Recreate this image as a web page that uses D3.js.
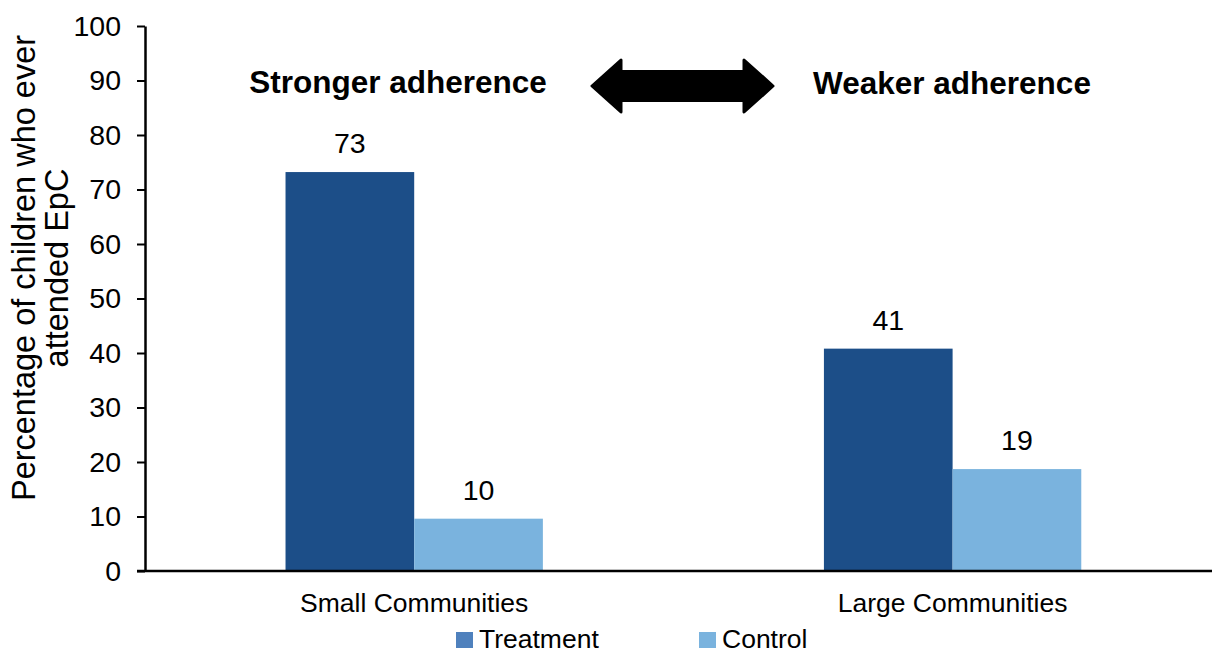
<!DOCTYPE html>
<html>
<head>
<meta charset="utf-8">
<script src="https://cdn.jsdelivr.net/npm/d3@7"></script>
<style>
  html, body { margin: 0; padding: 0; background: #fff; }
  svg { display: block; font-family: Arial, "Liberation Sans", sans-serif; }
</style>
</head>
<body>
<svg id="chart" width="1212" height="653"></svg>
<script>
// ---- data ----
const categories = ["Small Communities", "Large Communities"];
const seriesNames = ["Treatment", "Control"];
const treatmentValues = [73.2, 40.8];
const controlValues = [9.6, 18.7];
const yTicks = [0, 10, 20, 30, 40, 50, 60, 70, 80, 90, 100];
const yTitleLines = ["Percentage of children who ever", "attended EpC"];
const annotations = ["Stronger adherence", "Weaker adherence"];

const barColors = { Treatment: "#1c4e88", Control: "#7ab3de" };
const legendColors = { Treatment: "#4f81bd", Control: "#7ab3de" };

const rows = categories.map((c, i) => ({
  category: c,
  values: [
    { series: "Treatment", value: treatmentValues[i] },
    { series: "Control", value: controlValues[i] }
  ]
}));

const svg = d3.select("#chart");
const plotLeft = 145, plotBottom = 571, plotTop = 26;
const x0 = d3.scaleBand().domain(categories).range([plotLeft, plotLeft + 2 * 538.4])
  .paddingInner(0.522).paddingOuter(0.261);
const x1 = d3.scaleBand().domain(seriesNames).range([0, x0.bandwidth()]);
const y = d3.scaleLinear().domain([0, 100]).range([plotBottom, plotTop]);

// bars
const g = svg.selectAll("g.cat").data(rows).enter().append("g")
  .attr("transform", d => `translate(${x0(d.category)},0)`);
g.selectAll("rect").data(d => d.values).enter().append("rect")
  .attr("x", d => x1(d.series))
  .attr("width", x1.bandwidth())
  .attr("y", d => y(d.value))
  .attr("height", d => y(0) - y(d.value))
  .attr("fill", d => barColors[d.series]);
g.selectAll("text.val").data(d => d.values).enter().append("text")
  .attr("class", "val")
  .attr("x", d => x1(d.series) + x1.bandwidth() / 2)
  .attr("y", d => y(d.value) - 19)
  .attr("text-anchor", "middle")
  .attr("font-size", 28.5)
  .attr("fill", "#000")
  .text(d => Math.round(d.value));

// y axis
const yAxis = d3.axisLeft(y).tickValues(yTicks).tickSize(8).tickSizeOuter(0).tickPadding(16);
const ya = svg.append("g").attr("transform", `translate(${plotLeft},0)`).call(yAxis);
ya.select(".domain").attr("stroke", "#000").attr("stroke-width", 2.5);
ya.selectAll(".tick line").attr("stroke", "#000").attr("stroke-width", 2);
ya.selectAll(".tick text").attr("font-size", 28.5).attr("fill", "#000")
  .attr("font-family", "Arial, 'Liberation Sans', sans-serif");

// x baseline
svg.append("line").attr("x1", plotLeft - 8).attr("x2", 1212)
  .attr("y1", y(0)).attr("y2", y(0)).attr("stroke", "#000").attr("stroke-width", 2.5);

// category labels
svg.selectAll("text.cat").data(categories).enter().append("text")
  .attr("class", "cat")
  .attr("x", d => x0(d) + x0.bandwidth() / 2)
  .attr("y", 612)
  .attr("text-anchor", "middle")
  .attr("font-size", 26.5)
  .attr("fill", "#000")
  .text(d => d);

// y title
const yt = svg.append("text")
  .attr("transform", "translate(0,268) rotate(-90)")
  .attr("text-anchor", "middle")
  .attr("font-size", 32.5)
  .attr("fill", "#000");
yTitleLines.forEach((t, i) => {
  yt.append("tspan").attr("x", 0).attr("y", 35 + i * 33).text(t);
});

// annotations
svg.append("text").attr("x", 398).attr("y", 93).attr("text-anchor", "middle")
  .attr("font-size", 31.5).attr("font-weight", "bold").attr("fill", "#000").text(annotations[0]);
svg.append("text").attr("x", 952).attr("y", 94).attr("text-anchor", "middle")
  .attr("font-size", 31.5).attr("font-weight", "bold").attr("fill", "#000").text(annotations[1]);

// double arrow
const ax0 = 592, ax1 = 773, ay = 86, hh = 26, sh = 14.5, hl = 29;
const arrowPts = [
  [ax0, ay], [ax0 + hl, ay - hh], [ax0 + hl, ay - sh], [ax1 - hl, ay - sh], [ax1 - hl, ay - hh],
  [ax1, ay], [ax1 - hl, ay + hh], [ax1 - hl, ay + sh], [ax0 + hl, ay + sh], [ax0 + hl, ay + hh]
];
svg.append("path").attr("d", d3.line()(arrowPts) + "Z")
  .attr("fill", "#000").attr("stroke", "#000").attr("stroke-width", 3).attr("stroke-linejoin", "round");

// legend
const legendX = [456, 699];
const lg = svg.selectAll("g.leg").data(seriesNames).enter().append("g")
  .attr("transform", (d, i) => `translate(${legendX[i]},632)`);
lg.append("rect").attr("width", 17).attr("height", 16).attr("fill", d => legendColors[d]);
lg.append("text").attr("x", 23).attr("y", 16).attr("font-size", 26.5).attr("fill", "#000").text(d => d);
</script>
</body>
</html>
